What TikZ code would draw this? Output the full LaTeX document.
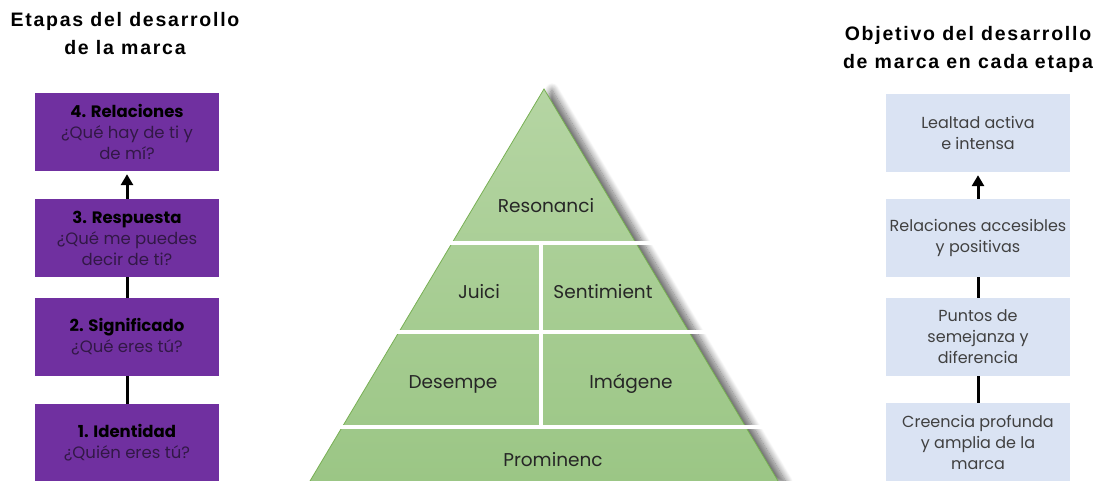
\documentclass[tikz,border=0pt]{standalone}
\usepackage{fontspec}
\setmainfont{Poppins}
\newfontfamily\headfont[LetterSpace=9]{Liberation Sans}
\usetikzlibrary{arrows.meta, shadows.blur}
\definecolor{stagepurple}{RGB}{112,48,160}
\definecolor{stagetext}{RGB}{50,24,70}
\definecolor{goalblue}{RGB}{218,227,243}
\definecolor{goaltext}{RGB}{64,64,64}
\definecolor{pyrtop}{RGB}{181,213,163}
\definecolor{pyrbot}{RGB}{155,198,133}
\definecolor{pyredge}{RGB}{120,176,84}
\tikzset{
  headtitle/.style={align=center, font=\headfont\bfseries\fontsize{19.5}{28}\selectfont},
  stage/.style={fill=stagepurple, minimum width=184pt, minimum height=78pt, align=center,
    text=stagetext, font=\fontsize{16.5}{21}\selectfont},
  goal/.style={fill=goalblue, minimum width=184pt, minimum height=78pt, align=center,
    text=goaltext, font=\fontsize{16}{21}\selectfont},
  conn/.style={line width=3pt, black},
  pyrlabel/.style={text=black!85, font=\fontsize{18.5}{20}\selectfont},
  split/.style={white, line width=4pt}
}
\begin{document}
\begin{tikzpicture}[x=1pt,y=-1pt]
\useasboundingbox (0,0) rectangle (1110,481);
% titles
\node[headtitle] (lefthead) at (125,34) {Etapas del desarrollo\\de la marca};
\node[headtitle] (righthead) at (968,49) {Objetivo del desarrollo\\de marca en cada etapa};
% stages
\node[stage] (s4) at (127,132) {\textcolor{black}{\textbf{4. Relaciones}}\\¿Qué hay de ti y\\de mí?};
\node[stage] (s3) at (127,238) {\textcolor{black}{\textbf{3. Respuesta}}\\¿Qué me puedes\\decir de ti?};
\node[stage] (s2) at (127,337) {\textcolor{black}{\textbf{2. Significado}}\\¿Qué eres tú?};
\node[stage] (s1) at (127,443) {\textcolor{black}{\textbf{1. Identidad}}\\¿Quién eres tú?};
\draw[conn] (s1) -- (s2);
\draw[conn] (s2) -- (s3);
\draw[conn, -{Triangle[width=12pt,length=11pt]}, shorten >=3pt] (s3) -- (s4);
% goals
\node[goal] (g4) at (978,133) {Lealtad activa\\e intensa};
\node[goal] (g3) at (978,238) {Relaciones accesibles\\y positivas};
\node[goal] (g2) at (978,337) {Puntos de\\semejanza y\\diferencia};
\node[goal] (g1) at (978,442) {Creencia profunda\\y amplia de la\\marca};
\draw[conn] (g1) -- (g2);
\draw[conn] (g2) -- (g3);
\draw[conn, -{Triangle[width=12pt,length=11pt]}, shorten >=3pt] (g3) -- (g4);
% pyramid
\path[top color=pyrtop, bottom color=pyrbot,
  blur shadow={shadow xshift=8pt, shadow yshift=-1pt, shadow blur steps=12, shadow blur radius=7pt, shadow opacity=60}]
  (544,89) -- (310,481) -- (778,481) -- cycle;
\draw[pyredge, line width=0.8pt] (310,481) -- (544,89) -- (778,481);
\draw[split] (440,243) -- (655,243);
\draw[split] (390,332) -- (708,332);
\draw[split] (338,427) -- (765,427);
\draw[split] (541,243) -- (541,427);
\node[pyrlabel] (reso) at (546,206) {Resonanci};
\node[pyrlabel] (juic) at (479,292) {Juici};
\node[pyrlabel] (sent) at (603,292) {Sentimient};
\node[pyrlabel] (dese) at (453,384) {Desempe};
\node[pyrlabel] (imag) at (631,384) {Imágene};
\node[pyrlabel] (prom) at (553,460) {Prominenc};
\end{tikzpicture}
\end{document}
